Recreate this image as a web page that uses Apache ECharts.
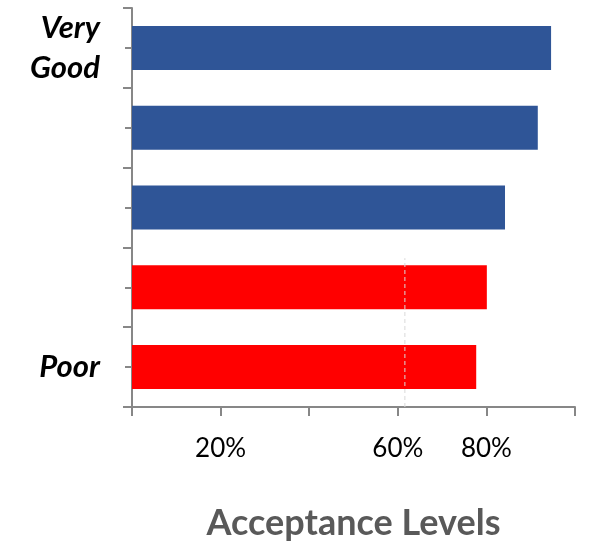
<!DOCTYPE html>
<html><head><meta charset="utf-8">
<script src="https://cdn.jsdelivr.net/npm/echarts@6/dist/echarts.min.js"></script>
<style>html,body{margin:0;padding:0;background:#fff}#c{width:590px;height:555px}</style>
</head><body><div id="c"></div>
<script>
var categories = ["Poor", "Level 2", "Level 3", "Level 4", "Very Good"];
var yLabels = ["Poor", "", "", "", "Very\nGood"];
var values = [77.7, 80.1, 84.2, 91.6, 94.6];
var barColors = ["#FF0000", "#FF0000", "#2F5597", "#2F5597", "#2F5597"];
var xTickLabels = {0: "", 20: "20%", 40: "", 60: "60%", 80: "80%", 100: ""};
var refLineX = 61.6;
var refLineSpan = [0, 3.73];

var chart = echarts.init(document.getElementById('c'));
var axisGray = '#878787';
chart.setOption({
  animation: false,
  grid: {left: 132, right: 15, top: 8, bottom: 148, containLabel: false},
  xAxis: {
    type: 'value', min: 0, max: 100, interval: 20,
    splitLine: {show: false},
    axisLine: {show: true, lineStyle: {color: axisGray, width: 2}},
    axisTick: {show: true, length: 9, lineStyle: {color: axisGray, width: 2}},
    axisLabel: {
      margin: 29, fontFamily: 'Lato, "Open Sans", sans-serif', fontSize: 26, color: '#000',
      formatter: function (v) { return xTickLabels[v] !== undefined ? xTickLabels[v] : ''; }
    },
    name: 'Acceptance Levels', nameLocation: 'middle', nameGap: 98,
    nameTextStyle: {fontFamily: 'Lato, "Open Sans", sans-serif', fontSize: 36, fontWeight: 'bold', color: '#595959'}
  },
  yAxis: [{
    type: 'category', data: categories,
    axisLine: {show: true, lineStyle: {color: axisGray, width: 2}},
    axisTick: {show: true, length: 9, lineStyle: {color: axisGray, width: 2}},
    axisLabel: {
      margin: 32, fontFamily: 'Lato, "Open Sans", sans-serif', fontSize: 31, fontWeight: 'bold', fontStyle: 'italic',
      color: '#000', lineHeight: 40, align: 'right',
      formatter: function (v, i) { return yLabels[i]; }
    }
  }, {
    type: 'category', data: categories, position: 'left',
    axisLine: {show: false},
    axisTick: {show: true, alignWithLabel: true, length: 7, lineStyle: {color: axisGray, width: 2}},
    axisLabel: {show: false}
  }, {
    type: 'value', min: 0, max: 10, show: false
  }],
  series: [{
    type: 'bar', yAxisIndex: 0, barWidth: 44,
    data: values.map(function (v, i) { return {value: v, itemStyle: {color: barColors[i]}}; })
  }, {
    type: 'line', yAxisIndex: 2, symbol: 'none', silent: true, z: 5,
    lineStyle: {color: '#d9d9d9', width: 1, type: [4, 3]},
    data: [[refLineX, refLineSpan[0]], [refLineX, refLineSpan[1]]]
  }]
});
</script></body></html>
